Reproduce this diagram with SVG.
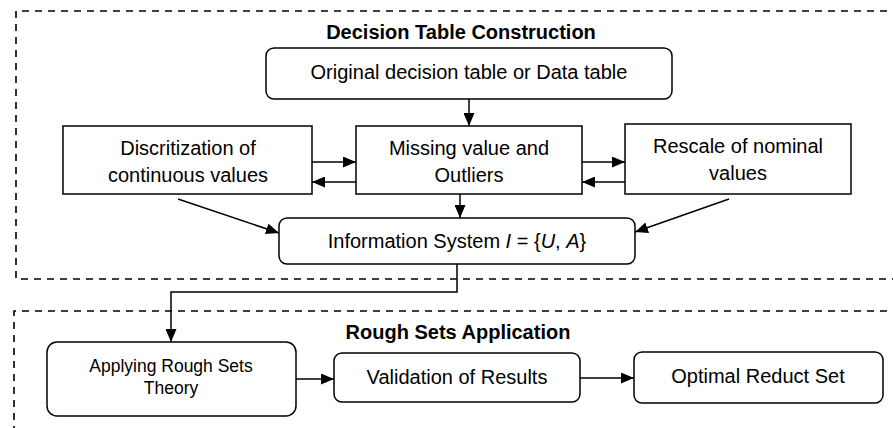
<svg xmlns="http://www.w3.org/2000/svg" width="893" height="428" viewBox="0 0 893 428">
<style>
.box{fill:#fff;stroke:#000;stroke-width:1.5}
.dash{fill:none;stroke:#000;stroke-width:1.6;stroke-dasharray:7 6}
.t{font-family:"Liberation Sans",Arial,sans-serif;font-size:20px;fill:#000;text-anchor:middle}
.ts{font-family:"Liberation Sans",Arial,sans-serif;font-size:17.5px;fill:#000;text-anchor:middle}
.h{font-family:"Liberation Sans",Arial,sans-serif;font-size:20px;font-weight:bold;fill:#000;text-anchor:middle}
.c{fill:none;stroke:#000;stroke-width:1.5}
</style>
<defs>
<marker id="ah" viewBox="0 0 13 11" refX="13" refY="5.5" markerWidth="13" markerHeight="11" markerUnits="userSpaceOnUse" orient="auto">
<path d="M0,0 L13,5.5 L0,11 Z" fill="#000"/>
</marker>
</defs>
<g id="group-decision">
<path class="dash" d="M900,11 H16 V279 H900"/>
<text class="h" x="461" y="39">Decision Table Construction</text>
</g>
<g id="group-rough">
<path class="dash" d="M900,311 H14 V440"/>
<text class="h" x="458" y="339">Rough Sets Application</text>
</g>
<g id="connectors">
<line class="c" x1="469" y1="99" x2="469" y2="126" marker-end="url(#ah)"/>
<line class="c" x1="312" y1="162" x2="356" y2="162" marker-end="url(#ah)"/>
<line class="c" x1="356" y1="182" x2="312" y2="182" marker-end="url(#ah)"/>
<line class="c" x1="582" y1="162" x2="625" y2="162" marker-end="url(#ah)"/>
<line class="c" x1="625" y1="182" x2="582" y2="182" marker-end="url(#ah)"/>
<line class="c" x1="460" y1="194" x2="460" y2="218" marker-end="url(#ah)"/>
<line class="c" x1="178" y1="199" x2="279" y2="233" marker-end="url(#ah)"/>
<line class="c" x1="729" y1="199" x2="635" y2="232" marker-end="url(#ah)"/>
<path class="c" d="M457,264 V292 H171 V342" marker-end="url(#ah)"/>
<line class="c" x1="296" y1="379" x2="334" y2="379" marker-end="url(#ah)"/>
<line class="c" x1="580" y1="378" x2="634" y2="378" marker-end="url(#ah)"/>
</g>
<g id="original">
<rect class="box" x="266" y="48" width="406" height="51" rx="8"/>
<text class="t" x="469" y="79">Original decision table or Data table</text>
</g>
<g id="discritization">
<rect class="box" x="63" y="126" width="249" height="68"/>
<text class="t" x="188" y="155">Discritization of</text>
<text class="t" x="188" y="182">continuous values</text>
</g>
<g id="missing">
<rect class="box" x="356" y="126" width="226" height="68"/>
<text class="t" x="469" y="155">Missing value and</text>
<text class="t" x="469" y="182">Outliers</text>
</g>
<g id="rescale">
<rect class="box" x="625" y="124" width="226" height="70"/>
<text class="t" x="738" y="153">Rescale of nominal</text>
<text class="t" x="738" y="180">values</text>
</g>
<g id="information">
<rect class="box" x="279" y="218" width="356" height="46" rx="8"/>
<text class="t" x="457" y="248">Information System <tspan font-style="italic">I</tspan> = {<tspan font-style="italic">U</tspan>, <tspan font-style="italic">A</tspan>}</text>
</g>
<g id="applying">
<rect class="box" x="47" y="342" width="249" height="74" rx="10"/>
<text class="ts" x="171" y="372">Applying Rough Sets</text>
<text class="ts" x="171" y="394">Theory</text>
</g>
<g id="validation">
<rect class="box" x="334" y="353" width="246" height="49" rx="8"/>
<text class="t" x="457" y="384">Validation of Results</text>
</g>
<g id="optimal">
<rect class="box" x="634" y="352" width="249" height="51" rx="8"/>
<text class="t" x="758" y="383">Optimal Reduct Set</text>
</g>
</svg>
